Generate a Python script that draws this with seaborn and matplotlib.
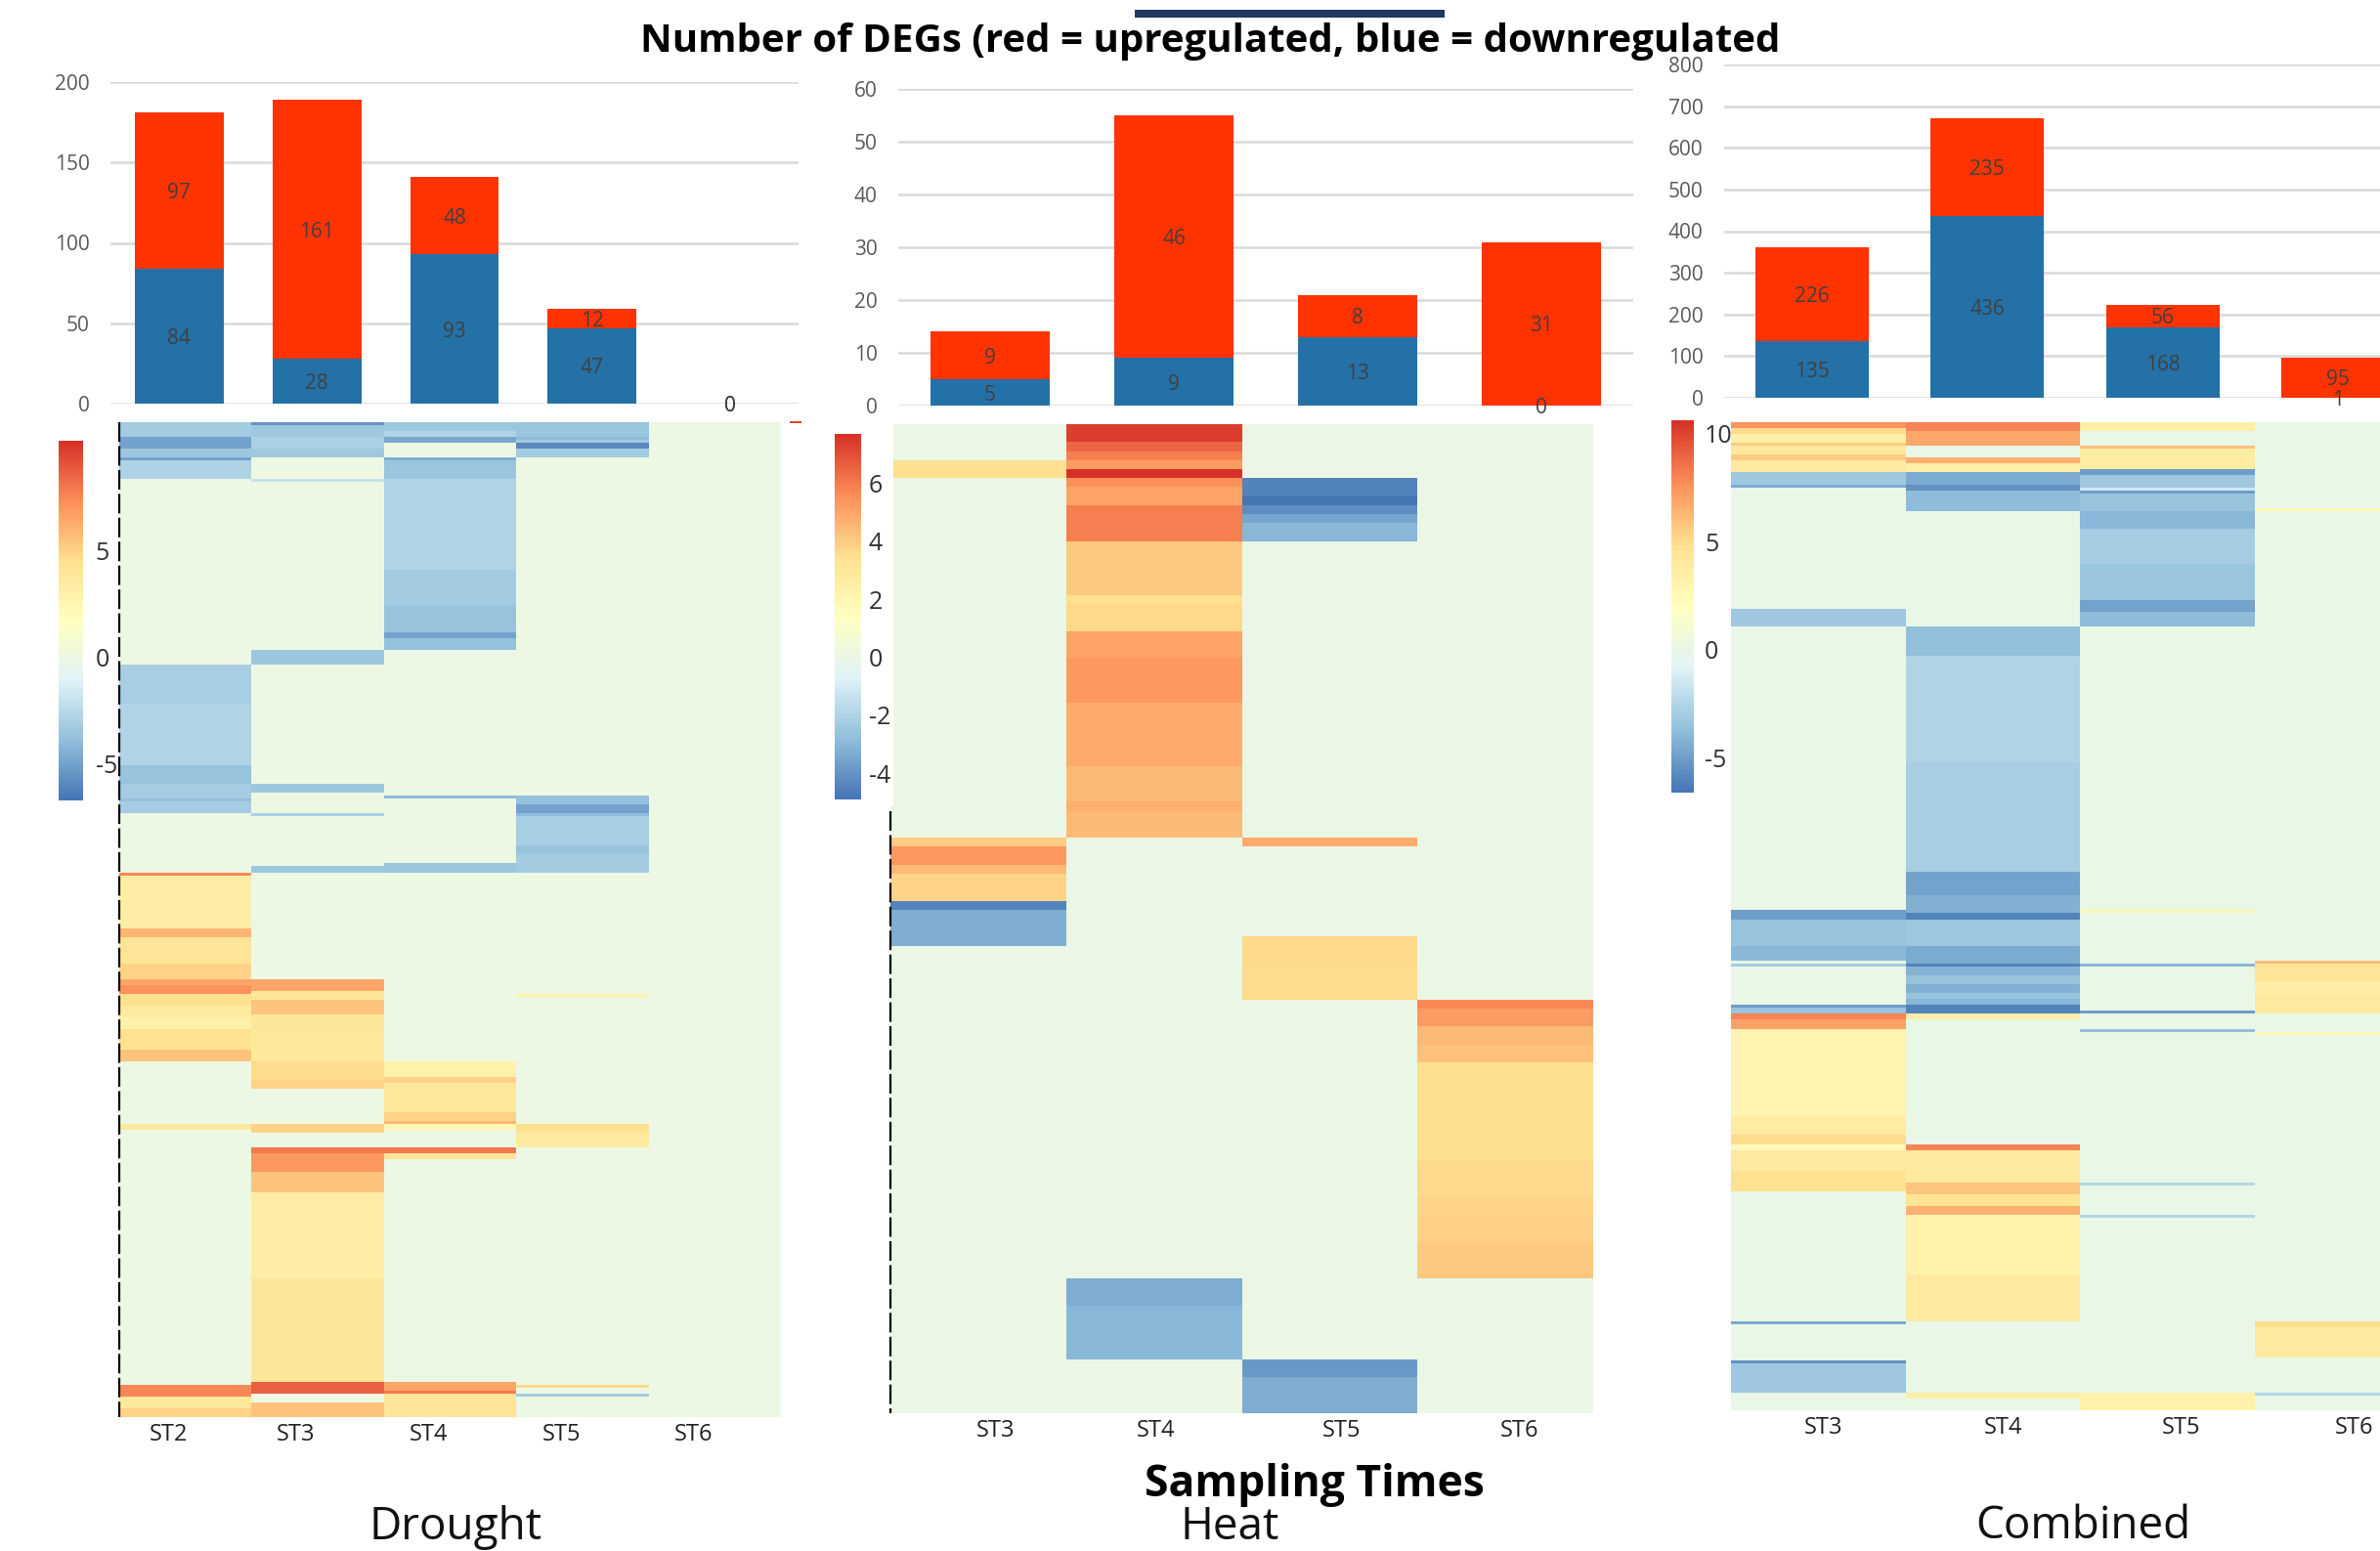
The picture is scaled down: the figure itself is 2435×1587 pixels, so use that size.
import numpy as np
import pandas as pd
import matplotlib.pyplot as plt
from matplotlib.patches import Rectangle
import seaborn as sns

# bar counts
drought_times = ['ST2', 'ST3', 'ST4', 'ST5', 'ST6']
drought_down = [84, 28, 93, 47, 0]
drought_up = [97, 161, 48, 12, 0]
heat_times = ['ST3', 'ST4', 'ST5', 'ST6']
heat_down = [5, 9, 13, 0]
heat_up = [9, 46, 8, 31]
combined_times = ['ST3', 'ST4', 'ST5', 'ST6']
combined_down = [135, 436, 168, 1]
combined_up = [226, 235, 56, 95]

# heatmap columns as (last row of the band, log2 fold change), 0 = not a DEG
drought_rows = 336
drought_st2 = [(5, -3.3), (9, -5), (12, -3.5), (13, -5), (19, -2.9), (82, 0), (95, -3.1), (116, -2.8), (122, -3.7),
               (127, -3.2), (128, -3.8), (132, -3.2), (152, 0), (153, 7.5), (171, 3.3), (174, 6), (183, 4.2), (188, 5),
               (190, 6.5), (193, 7.2), (197, 4.5), (201, 3.6), (205, 3), (212, 4.5), (216, 5.5), (237, 0), (239, 3.8),
               (325, 0), (329, 7.5), (333, 3.8), (336, 5)]
drought_st3 = [(1, -5.5), (5, -3.4), (9, -3), (12, -3.4), (19, 0), (20, -2), (77, 0), (82, -3.5), (122, 0), (125, -3.5),
               (132, 0), (133, -3), (150, 0), (152, -3.5), (188, 0), (192, 6.5), (195, 4), (200, 5.5), (205, 4),
               (216, 3.8), (222, 4.7), (225, 5), (237, 0), (240, 5), (245, 0), (247, 8), (253, 7), (260, 5.5),
               (289, 3.3), (324, 4), (328, 8.7), (331, 0), (336, 5.5)]
drought_st4 = [(3, -3.5), (5, -2.8), (7, -4.8), (12, 0), (13, -4.5), (19, -3.6), (50, -2.8), (62, -3.3), (71, -3.7),
               (73, -5), (77, -3.8), (126, 0), (127, -4), (149, 0), (152, -3.6), (216, 0), (221, 3), (223, 5),
               (233, 3.8), (236, 5), (237, 6), (239, 2.5), (245, 0), (247, 8), (249, 4), (324, 0), (327, 6.5),
               (328, 8), (336, 4.2)]
drought_st5 = [(5, -3.6), (6, -4), (7, -3.3), (9, -6), (12, -3.3), (126, 0), (129, -3.8), (132, -5), (133, -4),
               (143, -3.1), (146, -3.7), (152, -3.3), (193, 0), (194, 3), (237, 0), (240, 4.5), (245, 3.6), (325, 0),
               (326, 4.8), (328, 0), (329, -3.2), (336, 0)]
drought_st6 = [(336, 0)]

heat_rows = 110
heat_st3 = [(4, 0), (6, 3.5), (46, 0), (47, 4), (49, 5.3), (50, 4.5), (53, 3.8), (54, -4.5), (58, -3.3), (110, 0)]
heat_st4 = [(2, 7.4), (3, 6.5), (4, 5.9), (5, 5.2), (6, 7.7), (7, 5.5), (9, 5), (13, 5.9), (19, 4.1), (20, 3.5),
            (23, 3.7), (26, 5), (31, 5.3), (38, 4.8), (42, 4.5), (43, 4.7), (46, 4.5), (95, 0), (98, -3.3), (104, -3),
            (110, 0)]
heat_st5 = [(6, 0), (8, -4.5), (9, -4.9), (10, -4.2), (11, -3.5), (13, -3), (46, 0), (47, 4.8), (57, 0), (60, 3.7),
            (64, 3.6), (104, 0), (106, -3.9), (110, -3.3)]
heat_st6 = [(64, 0), (65, 5.7), (67, 5.2), (69, 4.5), (71, 4.3), (82, 3.5), (84, 3.7), (86, 3.7), (88, 3.8), (91, 3.9),
            (95, 4.1), (110, 0)]

combined_rows = 334
combined_st3 = [(2, 7.5), (4, 5), (7, 3.5), (8, 5.5), (11, 4), (13, 5.5), (17, 4), (21, -3.2), (22, -4.5), (63, 0),
                (69, -3.2), (165, 0), (168, -5), (177, -3.5), (182, -4), (183, 0), (184, -3), (197, 0), (198, -5),
                (200, -3.5), (202, 8), (205, 7), (235, 3), (241, 3.8), (244, 5), (246, 2.5), (253, 4), (260, 4.8),
                (304, 0), (305, -4.5), (317, 0), (318, -5.5), (328, -3.2), (334, 0)]
combined_st4 = [(3, 8), (8, 6.8), (12, 0), (14, 6.5), (17, 3.5), (21, -4.5), (23, -5.5), (30, -3.8), (69, 0),
                (79, -3.7), (115, -2.6), (152, -2.9), (160, -4.8), (166, -4.3), (168, -6), (177, -3.3), (183, -4.5),
                (184, -6), (187, -4.2), (190, -3.5), (193, -4.3), (195, -3.5), (197, -4), (200, -6), (202, 3.5), (244, 0),
                (246, 8), (257, 4), (261, 5.8), (265, 4.5), (268, 6.5), (288, 3.3), (304, 4), (328, 0), (330, 3.5), (334, 0)]
combined_st5 = [(3, 3.5), (8, 0), (9, 6), (16, 3.7), (18, -5), (22, -3.2), (23, -1.5), (24, -5), (30, -3.5), (36, -4), (48, -3),
                (60, -3.4), (64, -4.8), (69, -3.8), (165, 0), (166, 2.6), (183, 0), (184, -4), (199, 0), (200, -5),
                (205, 0), (206, -3.7), (257, 0), (258, -2.5), (268, 0), (269, -2.5), (328, 0), (334, 3.3)]
combined_st6 = [(29, 0), (30, 2.6), (182, 0), (183, 6), (189, 4.5), (193, 3.6), (200, 4), (206, 0), (207, 2.6),
                (304, 0), (306, 5), (316, 4), (328, 0), (329, -2.5), (334, 0)]

W, H = 2435, 1587
BLUE = '#2471A7'
RED = '#FF3300'
TEXT = '#404040'
FONT = 'Open Sans'

sns.set_theme(style='white')
plt.rcParams['font.family'] = [FONT, 'DejaVu Sans']
heat_cmap = sns.blend_palette(['#4575B4', '#91BFDB', '#E0F3F8', '#FFFFBF', '#FEE090', '#FC8D59', '#D73027'], as_cmap=True)

fig = plt.figure(figsize=(W / 100, H / 100), dpi=100, facecolor='white')


def px_axes(x0, y0, x1, y1):
    """Axes placed with pixel edges, y counted from the top."""
    return fig.add_axes([x0 / W, 1 - y1 / H, (x1 - x0) / W, (y1 - y0) / H])


def expand(bands):
    out, start = [], 0
    for end, value in bands:
        out += [value] * (end - start)
        start = end
    return out


def plot_counts(box, times, down, up, ymax, step):
    ax = px_axes(*box)
    totals = [d + u for d, u in zip(down, up)]
    sns.barplot(x=times, y=totals, color=RED, width=0.645, saturation=1, linewidth=0, ax=ax)
    sns.barplot(x=times, y=down, color=BLUE, width=0.645, saturation=1, linewidth=0, ax=ax)
    ax.set_ylim(0, ymax)
    ax.set_yticks(np.arange(0, ymax + 1, step))
    ax.set_axisbelow(True)
    ax.yaxis.grid(True, color='#D9D9D9', lw=1.8)
    sns.despine(ax=ax, left=True, bottom=True)
    ax.tick_params(axis='x', bottom=False, labelbottom=False)
    ax.tick_params(axis='y', left=False, labelsize=15, labelcolor='#595959', pad=9.5)
    for i, (d, u) in enumerate(zip(down, up)):
        ax.text(i, d / 2, str(d), ha='center', va='center_baseline', fontsize=15, color=TEXT, clip_on=False)
        ax.text(i, d + u / 2, str(u), ha='center', va='center_baseline', fontsize=15, color=TEXT, clip_on=False)
    for t in ax.get_yticklabels():
        t.set_clip_on(False)
    return ax


def plot_heat(box, cbar_box, columns, times, tick_pos, vmin, vmax, cbar_ticks, cbar_pad):
    ax = px_axes(*box)
    cax = px_axes(*cbar_box)
    cax.set_zorder(3)
    data = pd.DataFrame({t: expand(c) for t, c in zip(times, columns)})
    sns.heatmap(data, cmap=heat_cmap, vmin=vmin, vmax=vmax, ax=ax, cbar_ax=cax, yticklabels=False)
    ax.set_xticks(tick_pos)
    ax.set_xticklabels(times, rotation=0, fontsize=17, color='#202020')
    ax.tick_params(axis='x', bottom=False, length=0, pad=4)
    cax.set_yticks(cbar_ticks)
    cax.set_yticklabels([str(t) for t in cbar_ticks], fontsize=18, color='#303030')
    cax.tick_params(axis='y', right=False, length=0, pad=cbar_pad)
    for t in cax.get_yticklabels():
        t.set_clip_on(False)
    cax.collections[0].set_rasterized(True)
    return ax


plot_counts((113, 84, 817, 413), drought_times, drought_down, drought_up, 200, 50)
plot_counts((919, 91, 1671, 415), heat_times, heat_down, heat_up, 60, 10)
plot_counts((1764, 66, 2482, 407), combined_times, combined_down, combined_up, 800, 100)

ax1 = plot_heat((122, 432, 799, 1450), (60, 451, 85, 819),
                [drought_st2, drought_st3, drought_st4, drought_st5, drought_st6],
                drought_times, [0.37, 1.33, 2.34, 3.34, 4.34], -6.75, 10.2, [-5, 0, 5], 9)
ax2 = plot_heat((911, 434, 1630, 1446), (854, 444, 881, 818),
                [heat_st3, heat_st4, heat_st5, heat_st6],
                heat_times, [0.60, 1.51, 2.57, 3.58], -4.9, 7.7, [-4, -2, 0, 2, 4, 6], 5.5)
ax3 = plot_heat((1771, 432, 2485, 1443), (1710, 430, 1733, 811),
                [combined_st3, combined_st4, combined_st5, combined_st6],
                combined_times, [0.53, 1.56, 2.58, 3.57], -6.6, 10.6, [-5, 0, 5, 10], 8)

# leftovers of the cut dendrograms along the left edge
ax1.plot([0, 0], [0, drought_rows], color='black', lw=1.6, ls=(0, (9, 2)), clip_on=False)
ax2.plot([0, 0], [43, heat_rows], color='black', lw=1.6, ls=(0, (9, 2)), clip_on=False)

# pasted pieces sitting on top of the panels
for x, y, w, h, c in [(838, 430, 76, 395, 'white'), (1161, 10, 317, 8, '#1F3864'), (808, 431, 12, 2, '#E8402A')]:
    fig.add_artist(Rectangle((x / W, 1 - (y + h) / H), w / W, h / H, transform=fig.transFigure,
                             facecolor=c, edgecolor='none', zorder=2))

fig.text(1238 / W, 1 - 42 / H, 'Number of DEGs (red = upregulated, blue = downregulated', ha='center', va='center',
         fontsize=29, fontweight='bold', color='black')
fig.text(1345 / W, 1 - 1519 / H, 'Sampling Times', ha='center', va='center', fontsize=32, fontweight='bold', color='black')
fig.text(466 / W, 1 - 1563 / H, 'Drought', ha='center', va='center', fontsize=33, color='#111111')
fig.text(1258 / W, 1 - 1563 / H, 'Heat', ha='center', va='center', fontsize=33, color='#111111')
fig.text(2131 / W, 1 - 1562 / H, 'Combined', ha='center', va='center', fontsize=33, color='#111111')

fig.savefig('out.png', dpi=100)
